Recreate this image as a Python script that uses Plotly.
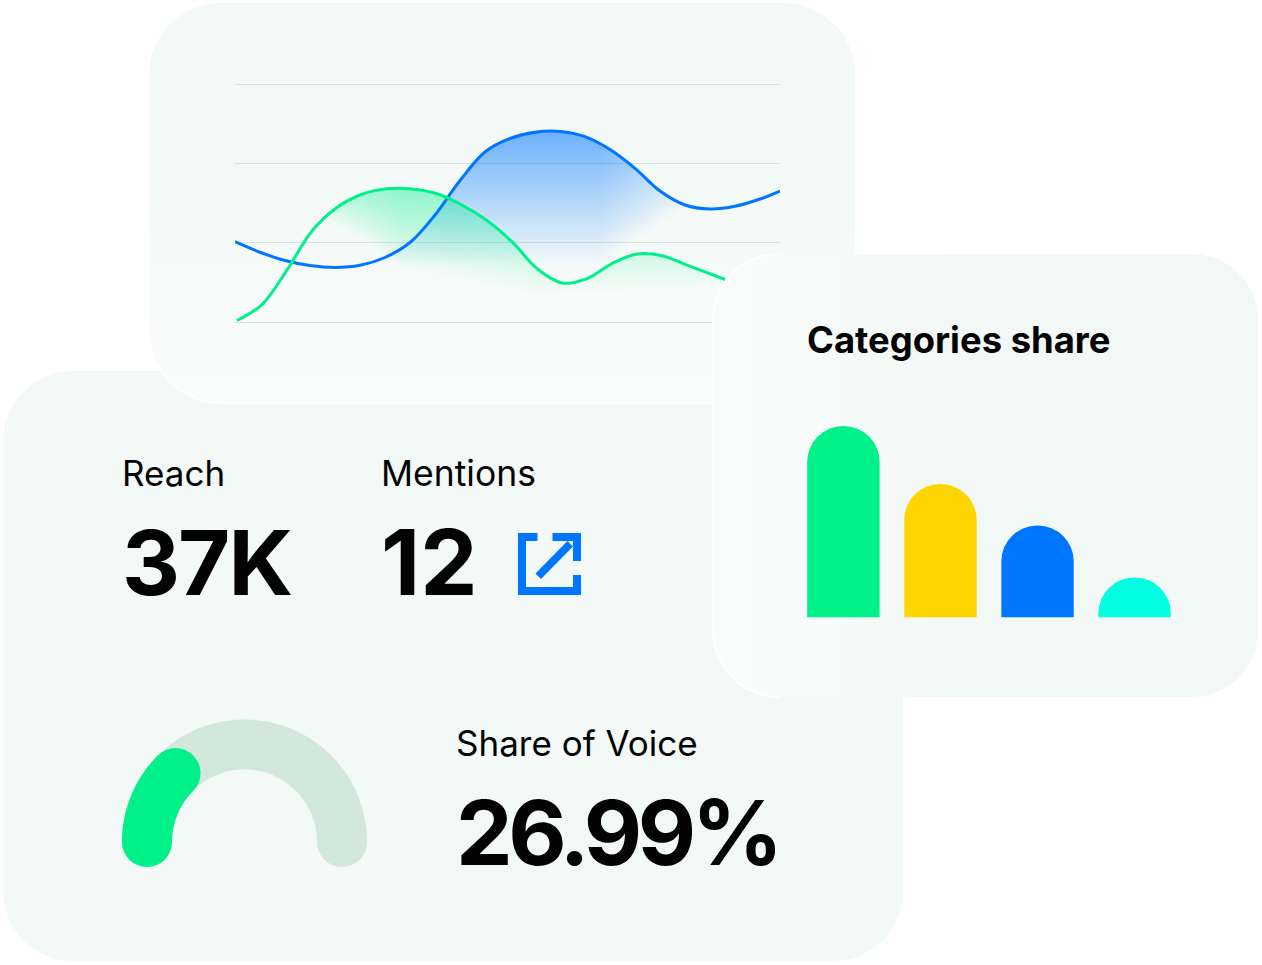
import numpy as np
import plotly.graph_objects as go

W, H = 1262, 965

# ---- data ----
blue_x = [0, 25, 50, 75, 100, 125, 150, 175, 200, 225, 250, 275, 300, 325, 350, 375, 400, 425, 450, 475, 500, 525, 545]
blue_y = [101.2, 87.9, 77.5, 71.2, 68.8, 71.5, 81.3, 100.2, 134.9, 178.4, 214.3, 231.3, 239.2, 240.1, 233.6, 217.4,
          193.7, 165.1, 147.5, 142.4, 145.8, 155, 165.1]
green_x = [2, 27, 52, 77, 102, 127, 152, 177, 202, 227, 252, 277, 302, 327, 352, 377, 402, 427, 452, 477, 490]
green_y = [1.9, 22, 65.5, 114.7, 144.3, 161, 167.9, 167.6, 161.7, 147.5, 127.9, 101.2, 67.4, 49.2, 54.8, 73.7,
           85.7, 83.6, 71.8, 59.9, 53.6]
grid_values = [0, 100, 200, 300]
categories = ["A", "B", "C", "D"]
category_values = [42, 29.3, 20.2, 8.8]
category_colors = ["#00F08A", "#FFD500", "#0076FF", "#00FFE0"]
gauge_filled = 25.0
reach_label, reach_value = "Reach", "37K"
mentions_label, mentions_value = "Mentions", "12"
sov_label, sov_value = "Share of Voice", "26.99%"
bars_title = "Categories share"

BLUE, GREEN = "#0076FF", "#00F08A"
FONT = "Inter"
INK = "#030303"
CARD = "#F2F9F6"
SMOOTH = 1.0


def dom_x(a, b):
    return [a / W, b / W]


def dom_y(top, bottom):
    return [1 - bottom / H, 1 - top / H]


def rounded(x0, y0, x1, y1, r, n=24):
    t = np.linspace(0, np.pi / 2, n)
    xs, ys = [], []
    for cx, cy, a in [(x1 - r, y0 + r, -np.pi / 2), (x1 - r, y1 - r, 0),
                      (x0 + r, y1 - r, np.pi / 2), (x0 + r, y0 + r, np.pi)]:
        xs += list(cx + r * np.cos(a + t))
        ys += list(cy + r * np.sin(a + t))
    return np.array(xs + xs[:1]), np.array(ys + ys[:1])


def card(x0, y0, x1, y1, r, c0, c1, kind, start, stop, xa, ya):
    xs, ys = rounded(x0, y0, x1, y1, r)
    return go.Scatter(x=xs, y=ys, mode="lines", line=dict(width=0, simplify=False), fill="toself",
                      fillgradient=dict(type=kind, start=start, stop=stop,
                                        colorscale=[[0, c0], [1, c1]]),
                      hoverinfo="skip", showlegend=False, xaxis=xa, yaxis=ya)


def card_edge(x0, y0, x1, y1, r, keep, xa, ya, alpha=0.85, width=2):
    xs, ys = rounded(x0, y0, x1, y1, r)
    xs, ys = xs.copy(), ys.copy()
    mask = keep(xs, ys)
    xs[~mask] = np.nan
    return go.Scatter(x=xs, y=ys, mode="lines", connectgaps=False,
                      line=dict(width=width, color=f"rgba(255,255,255,{alpha})", simplify=False),
                      hoverinfo="skip", showlegend=False, xaxis=xa, yaxis=ya)


# same cubic plotly draws for a spline line, used only to mask the glow under a curve
def spline_curve(px, py, steps=40):
    p = np.column_stack([px, py]).astype(float)
    tan = []
    for i in range(1, len(p) - 1):
        d1 = p[i - 1] - p[i]
        d2 = p[i + 1] - p[i]
        a1, a2 = np.hypot(*d1) ** SMOOTH, np.hypot(*d2) ** SMOOTH
        num = (a2 * a2 * d1 - a1 * a1 * d2) * SMOOTH
        tan.append((p[i] + num / (3 * a2 * (a1 + a2)), p[i] - num / (3 * a1 * (a1 + a2))))
    out = []
    s = np.linspace(0, 1, steps)[:, None]
    out.append((1 - s) ** 2 * p[0] + 2 * s * (1 - s) * tan[0][0] + s ** 2 * p[1])
    for i in range(len(tan) - 1):
        out.append((1 - s) ** 3 * p[i + 1] + 3 * s * (1 - s) ** 2 * tan[i][1]
                   + 3 * s ** 2 * (1 - s) * tan[i + 1][0] + s ** 3 * p[i + 2])
    out.append((1 - s) ** 2 * p[-2] + 2 * s * (1 - s) * tan[-1][1] + s ** 2 * p[-1])
    c = np.vstack(out)
    return c[:, 0], c[:, 1]


LX0, LX1, LY0, LY1 = 235, 780, 84, 322
PY = (LY1 - LY0) / 300.0
PAD = 6


def curve_top(xs_data, ys_data, grid):
    cx, cy = spline_curve(np.array(xs_data), LY1 - np.array(ys_data) * PY)
    return np.interp(grid, cx, cy, left=np.nan, right=np.nan)


def glow(alpha_fn, curve_x, curve_y, xr, yr, rgb):
    gx = np.arange(xr[0], xr[1], 1.0)
    gy = np.arange(yr[0], yr[1], 1.0)
    top = curve_top(curve_x, curve_y, gx)
    X, Y = np.meshgrid(gx + LX0, gy)
    a = alpha_fn(X, Y)
    a = np.clip(a, 0, 1)
    a[Y < top[None, :]] = np.nan
    a[np.isnan(np.broadcast_to(top, a.shape))] = np.nan
    return go.Heatmap(x=gx, y=(LY1 - gy) / PY, z=a, zmin=0, zmax=1, showscale=False,
                      colorscale=[[0, f"rgba({rgb},0)"], [1, f"rgba({rgb},1)"]],
                      hoverinfo="skip", xaxis="x2", yaxis="y2")


def blue_alpha(X, Y):
    t = (Y - 130) / 135 + np.maximum(0, X - 600) / 200
    t = np.clip(t, 0, 1)
    return 0.56 * (1 - t)


def green_alpha(X, Y):
    ybot = np.interp(X, [290, 315, 400, 530, 650, 720], [205, 232, 268, 293, 291, 287])
    t = (Y - 188) / (ybot - 188) + np.maximum(0, 400 - X) / 220
    return 0.42 * (1 - np.clip(t, 0, 1))


fig = go.Figure()

# stage 1: lower cards
fig.add_trace(card(3, 371, 903, 961, 70, CARD, CARD, "vertical", 371, 961, "x", "y"))
fig.add_trace(card(149, 3, 855, 403, 72, CARD, "#FAFCFB", "vertical", 120, 403, "x", "y"))
fig.add_trace(card_edge(149, 3, 855, 403, 72, lambda x, y: y > 340, "x", "y"))

# stage 2: line chart
fig.add_trace(glow(blue_alpha, blue_x, blue_y, (60, 470), (125, 272), "0,118,255"))
fig.add_trace(glow(green_alpha, green_x, green_y, (50, 490), (183, 297), "0,240,138"))
fig.add_trace(go.Scatter(x=blue_x, y=blue_y, mode="lines", cliponaxis=False, hoverinfo="skip",
                         line=dict(color=BLUE, width=3, shape="spline", smoothing=SMOOTH, simplify=False),
                         showlegend=False, xaxis="x2", yaxis="y2"))
fig.add_trace(go.Scatter(x=green_x, y=green_y, mode="lines", cliponaxis=False, hoverinfo="skip",
                         line=dict(color=GREEN, width=3, shape="spline", smoothing=SMOOTH, simplify=False),
                         showlegend=False, xaxis="x2", yaxis="y2"))

# stage 3: top card
fig.add_trace(card(713, 254, 1258, 697, 66, "#FAFCFB", "#F2F8F5", "horizontal", 740, 950, "x3", "y3"))
fig.add_trace(card_edge(713, 254, 1258, 697, 66, lambda x, y: x < 880, "x3", "y3"))

# bars
fig.add_trace(go.Bar(x=categories, y=category_values, width=0.746,
                     marker=dict(color=category_colors, cornerradius="50%", line=dict(width=0)),
                     hoverinfo="skip", showlegend=False, xaxis="x4", yaxis="y4"))

# gauge
GR = 97.5
ang_all = np.linspace(np.pi, 0, 181)
ang_val = np.linspace(np.pi, np.pi * (1 - gauge_filled / 100), 60)
for ang, col in [(ang_all, "#D3E8DD"), (ang_val, GREEN)]:
    xs, ys = np.cos(ang), np.sin(ang)
    fig.add_trace(go.Scatter(x=xs, y=ys, mode="lines", cliponaxis=False, hoverinfo="skip",
                             line=dict(color=col, width=50, simplify=False), showlegend=False,
                             xaxis="x5", yaxis="y5"))
    fig.add_trace(go.Scatter(x=[xs[0], xs[-1]], y=[ys[0], ys[-1]], mode="markers", cliponaxis=False,
                             hoverinfo="skip", marker=dict(color=col, size=50, line=dict(width=0)),
                             showlegend=False, xaxis="x5", yaxis="y5"))


def hidden(**kw):
    return dict(visible=False, fixedrange=True, **kw)


layout = dict(
    width=W, height=H, margin=dict(l=0, r=0, t=0, b=0), autosize=False,
    paper_bgcolor="white", plot_bgcolor="rgba(0,0,0,0)", showlegend=False,
    xaxis=hidden(domain=[0, 1], range=[0, W], anchor="y"),
    yaxis=hidden(domain=[0, 1], range=[H, 0], anchor="x"),
    xaxis2=dict(domain=dom_x(LX0, LX1), range=[0, 545], anchor="y2", showgrid=False, zeroline=False,
                showticklabels=False, ticks="", showline=False, fixedrange=True),
    yaxis2=dict(domain=dom_y(LY0 - PAD, LY1 + PAD), range=[-PAD / PY, 300 + PAD / PY], anchor="x2",
                tickvals=grid_values, showgrid=True,
                gridcolor="#D3E5DF", gridwidth=1.4, zeroline=False, showticklabels=False, ticks="",
                showline=False, fixedrange=True),
    xaxis3=hidden(domain=[0, 1], range=[0, W], anchor="y3"),
    yaxis3=hidden(domain=[0, 1], range=[H, 0], anchor="x3"),
    xaxis4=hidden(domain=dom_x(807, 1171), range=[-0.375, 3.375], anchor="y4", type="category"),
    yaxis4=hidden(domain=dom_y(426, 617.5), range=[0, 42], anchor="x4"),
    xaxis5=hidden(domain=dom_x(122, 367), range=[-122.5 / GR, 122.5 / GR], anchor="y5"),
    yaxis5=hidden(domain=dom_y(717, 867), range=[-25 / GR, 125 / GR], anchor="x5"),
)


def px(x, y):
    return x / W, 1 - y / H


def path(points):
    return "M" + " L".join(f"{px(x, y)[0]:.5f},{px(x, y)[1]:.5f}" for x, y in points) + " Z"


icon_parts = [
    [(518, 533), (537.5, 533), (537.5, 541), (526, 541), (526, 587), (573, 587), (573, 575),
     (581, 575), (581, 595), (518, 595)],
    [(552.5, 533), (581, 533), (581, 561), (573, 561), (573, 541), (552.5, 541)],
    [(567.5, 541), (573, 546.5), (541, 579), (535.5, 573.5)],
]
layout["shapes"] = [dict(type="path", xref="paper", yref="paper", path=path(p), fillcolor=BLUE,
                         line=dict(width=0), layer="above") for p in icon_parts]


def text(s, x, y, size, weight=400):
    fx, fy = px(x, y)
    return dict(text=s, x=fx, y=fy, xref="paper", yref="paper", xanchor="left", yanchor="middle",
                showarrow=False, align="left", xshift=0, yshift=0,
                font=dict(family=FONT, size=size, color=INK, weight=weight))


layout["annotations"] = [
    text(reach_label, 120, 473, 35),
    text(mentions_label, 379, 473, 35.5),
    text(reach_value, 120, 562, 90, 750),
    text(mentions_value, 379, 562, 91, 750),
    text(sov_label, 454, 743, 35),
    text(sov_value, 454, 832, 90, 750),
    text(bars_title, 805, 340, 36.4, 700),
]

fig.update_layout(**layout)
tighten = """
document.body.style.margin='0';document.body.style.overflow='hidden';
var sp={'%s':'-4.5px','%s':'-2px'};
document.querySelectorAll('.annotation-text').forEach(function(t){
  if(sp[t.textContent]){t.style.letterSpacing=sp[t.textContent];}
});
""" % (sov_value, reach_value)
fig.write_html("out.html", config=dict(displayModeBar=False, responsive=False), post_script=tighten)
